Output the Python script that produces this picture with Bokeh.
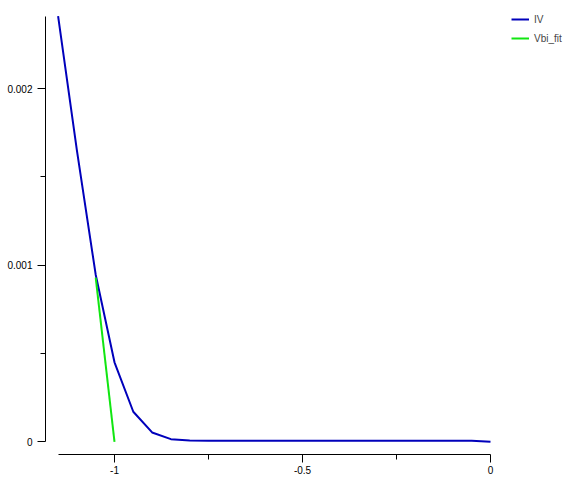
from bokeh.plotting import figure
from bokeh.models import Range1d, FixedTicker, Legend, LegendItem
from bokeh.embed import file_html
from bokeh.resources import INLINE

# ---- data ----
iv_v = [-1.15, -1.10, -1.05, -1.00, -0.95, -0.90, -0.85, -0.80, -0.75, -0.70,
        -0.65, -0.60, -0.55, -0.50, -0.45, -0.40, -0.35, -0.30, -0.25, -0.20,
        -0.15, -0.10, -0.05, 0.00]
iv_i = [0.00241, 0.00165, 0.000946, 0.00045, 0.00017, 0.000053, 0.000015, 0.000007,
        0.000006, 0.000006, 0.000006, 0.000006, 0.000006, 0.000006, 0.000006, 0.000006,
        0.000006, 0.000006, 0.000006, 0.000006, 0.000006, 0.000006, 0.000006, 0.0]
fit_v = [-1.05, -1.00]
fit_i = [0.00093, 0.0]

x_ticks = [-1.0, -0.5, 0.0]
x_tick_labels = ["-1", "-0.5", "0"]
x_minor = [-0.75, -0.25]
y_ticks = [0.0, 0.001, 0.002]
y_tick_labels = ["0", "0.001", "0.002"]
y_minor = [0.0005, 0.0015]

FONT = "Liberation Sans"

p = figure(width=570, height=478, output_backend="svg", toolbar_location=None,
           x_range=Range1d(-1.18351, 0.21277), y_range=Range1d(-0.0000719, 0.0024982),
           min_border_left=45, min_border_right=0, min_border_top=0, min_border_bottom=24)
p.outline_line_color = None
p.grid.visible = False
p.background_fill_color = "white"

r1 = p.line(iv_v, iv_i, line_color="#0000bb", line_width=2)
r2 = p.line(fit_v, fit_i, line_color="#11e611", line_width=2)

xa = p.xaxis[0]
xa.ticker = FixedTicker(ticks=x_ticks, minor_ticks=x_minor)
xa.major_label_overrides = {t: l for t, l in zip(x_ticks, x_tick_labels)}
xa.bounds = (-1.149, 0.0)

ya = p.yaxis[0]
ya.ticker = FixedTicker(ticks=y_ticks, minor_ticks=y_minor)
ya.major_label_overrides = {t: l for t, l in zip(y_ticks, y_tick_labels)}
ya.bounds = (0.0, 0.00241)

for ax in (xa, ya):
    ax.axis_line_color = "black"
    ax.axis_line_width = 1
    ax.major_tick_line_color = "black"
    ax.minor_tick_line_color = "black"
    ax.major_tick_in = 0
    ax.minor_tick_in = 0
    ax.major_tick_out = 8
    ax.minor_tick_out = 5
    ax.major_label_text_font = FONT
    ax.major_label_text_font_size = "10px"
    ax.major_label_text_color = "black"
xa.major_label_standoff = 3
ya.major_label_standoff = 5

legend = Legend(items=[LegendItem(label="IV", renderers=[r1]),
                       LegendItem(label="Vbi_fit", renderers=[r2])],
                location=(466, 408), padding=0, margin=0, spacing=3,
                glyph_width=18, glyph_height=16, label_height=16, label_standoff=5,
                border_line_color=None, background_fill_alpha=0,
                label_text_font=FONT, label_text_font_size="10px")
p.add_layout(legend, "center")

open("out.html", "w").write(file_html(p, INLINE))
